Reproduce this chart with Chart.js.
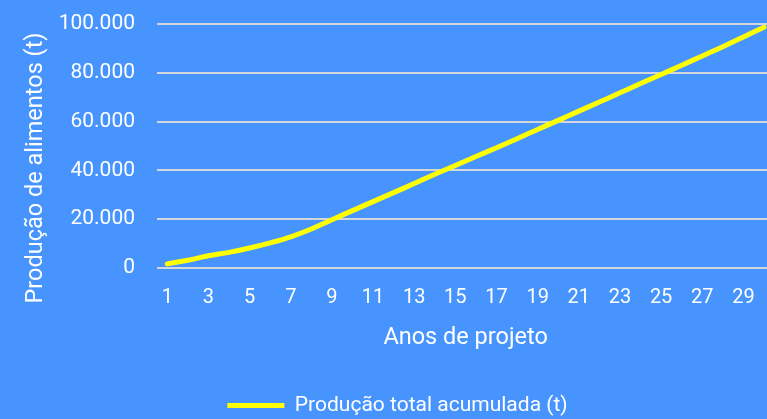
<!DOCTYPE html>
<html>
<head>
<meta charset="utf-8">
<script src="https://cdn.jsdelivr.net/npm/chart.js@4"></script>
<style>
  html, body { margin: 0; padding: 0; overflow: hidden; background: #4794fe; }
  #wrap { width: 767px; height: 419px; overflow: hidden; }
</style>
</head>
<body>
<div id="wrap"><canvas id="grafico" width="782" height="419"></canvas></div>
<script>
// anos de projeto
const anos = [1, 2, 3, 4, 5, 6, 7, 8, 9, 10, 11, 12, 13, 14, 15,
              16, 17, 18, 19, 20, 21, 22, 23, 24, 25, 26, 27, 28, 29, 30];
// producao total acumulada (t)
const producao = [1700, 3200, 5000, 6400, 8200, 10300, 12800, 16000, 19800, 23500,
                  27200, 30900, 34600, 38400, 42000, 45700, 49300, 53000, 56800, 60500,
                  64300, 68000, 71800, 75600, 79300, 83100, 86900, 90700, 94700, 98700];
const ticksY = [0, 20000, 40000, 60000, 80000, 100000];

const fonte = 'Roboto';
const branco = '#ffffff';
const tituloY = 'Produção de alimentos (t)';

function milhar(v) {
    return String(v).replace(/\B(?=(\d{3})+(?!\d))/g, '.');
}

// titulo do eixo Y um pouco abaixo do centro, como no original
const tituloEixoY = {
    id: 'tituloEixoY',
    afterDraw(chart) {
        const ctx = chart.ctx;
        ctx.save();
        ctx.translate(36, 168);
        ctx.rotate(-Math.PI / 2);
        ctx.fillStyle = branco;
        ctx.font = '23.5px ' + fonte;
        ctx.textAlign = 'center';
        ctx.textBaseline = 'middle';
        ctx.fillText(tituloY, 0, 0);
        ctx.restore();
    }
};

new Chart(document.getElementById('grafico'), {
    type: 'line',
    data: {
        labels: anos,
        datasets: [{
            label: 'Produção total acumulada (t)',
            data: producao,
            borderColor: '#ffff00',
            backgroundColor: '#ffff00',
            borderWidth: 5,
            borderCapStyle: 'round',
            tension: 0.4,
            pointRadius: 0,
            fill: false
        }]
    },
    options: {
        responsive: false,
        animation: false,
        layout: { padding: { top: 24, left: 13, bottom: -7 } },
        plugins: {
            tooltip: { enabled: false },
            legend: {
                position: 'bottom',
                labels: {
                    color: branco,
                    font: { family: fonte, size: 21 },
                    usePointStyle: true,
                    pointStyle: 'line',
                    pointStyleWidth: 57,
                    padding: 3
                }
            }
        },
        scales: {
            x: {
                offset: true,
                grid: { display: false, drawTicks: false },
                border: { display: false },
                ticks: {
                    color: branco,
                    font: { family: fonte, size: 20 },
                    autoSkip: false,
                    maxRotation: 0,
                    padding: 18,
                    callback: function (v, i) { return i % 2 === 0 ? this.getLabelForValue(v) : ''; }
                },
                title: {
                    display: true,
                    text: 'Anos de projeto',
                    color: branco,
                    font: { family: fonte, size: 23.5 },
                    padding: { top: 0, bottom: 40 }
                },
                afterFit: s => { s.height = 124; }
            },
            y: {
                min: 0,
                max: 100000,
                afterBuildTicks: s => { s.ticks = ticksY.map(v => ({ value: v })); },
                grid: { color: '#d2d6dc', lineWidth: 2, drawTicks: false },
                border: { display: false },
                ticks: {
                    color: branco,
                    font: { family: fonte, size: 21 },
                    padding: 22,
                    callback: v => milhar(v)
                },
                title: { display: false },
                afterFit: s => { s.width = 144; s.paddingTop = 0; s.paddingBottom = 0; }
            }
        }
    },
    plugins: [tituloEixoY]
});
</script>
</body>
</html>
